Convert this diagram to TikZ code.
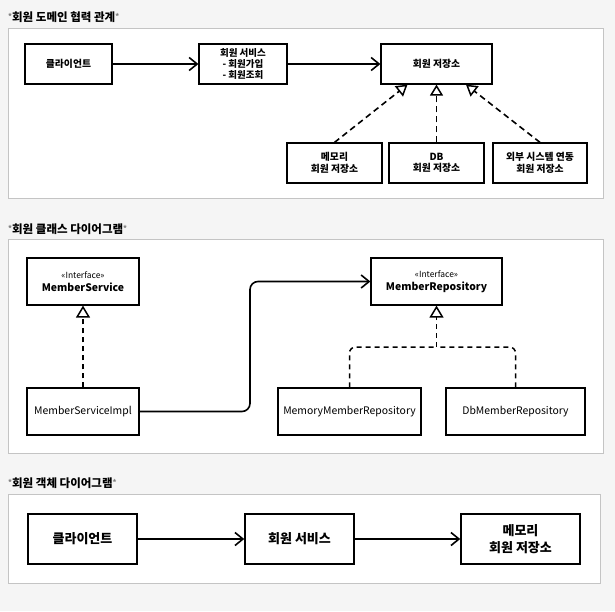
\documentclass[tikz,border=0pt]{standalone}
\usepackage{fontspec}
\setmainfont{Noto Sans CJK KR}
\usetikzlibrary{arrows.meta}
\definecolor{bgc}{HTML}{F5F5F5}
\definecolor{panelc}{HTML}{C4C4C4}
\newcommand{\myast}{\textcolor{gray}{\raisebox{1.5pt}{\fontsize{7.5}{7.5}\selectfont *}}}
\tikzset{
  panel/.style={draw=panelc, fill=white, line width=0.9pt},
  box/.style={draw=black, line width=1.2pt, fill=white, align=center, inner sep=1pt},
  box1/.style={box, font=\fontsize{9.8}{11.5}\selectfont\bfseries},
  box2/.style={box, minimum height=47pt, font=\fontsize{10.4}{13.5}\selectfont},
  box3/.style={box, line width=1.5pt, minimum height=50pt, font=\fontsize{13}{17}\selectfont\bfseries},
  ttl/.style={anchor=west, inner sep=0pt, font=\fontsize{11.5}{13}\selectfont\bfseries},
  assoc/.style={line width=1.6pt, -{Straight Barb[length=8pt,width=13pt,line width=1.6pt]}},
  impl/.style={line width=1.6pt, dash pattern=on 6pt off 4pt, -{Triangle[open,length=11pt,width=13pt,line width=1.5pt]}},
  implb/.style={line width=1.5pt, dash pattern=on 5pt off 4pt, -{Triangle[open,length=12pt,width=14pt,line width=1.5pt]}},
  dsh/.style={line width=1.5pt, dash pattern=on 5pt off 4pt},
}
\begin{document}
\begin{tikzpicture}[x=1pt,y=-1pt]
\useasboundingbox (0,0) rectangle (615,611);
\fill[bgc] (0,0) rectangle (615,611);

% ---------- panel 1
\node[ttl] (t1) at (8,17) {\myast 회원 도메인 협력 관계\myast};
\draw[panel] (8,28) rectangle (603,198);
\node[box1, minimum width=87pt, minimum height=40pt] (c1) at (68.5,64) {클라이언트};
\node[box1, minimum width=88pt, minimum height=40pt, font=\fontsize{9.5}{11}\selectfont\bfseries] (s1) at (243,64) {회원 서비스\\- 회원가입\\- 회원조회};
\node[box1, minimum width=111pt, minimum height=40pt] (r1) at (436.5,64) {회원 저장소};
\node[box1, minimum width=95pt, minimum height=40pt] (m1) at (334.5,163) {메모리\\회원 저장소};
\node[box1, minimum width=95pt, minimum height=40pt] (d1) at (436.5,163) {DB\\회원 저장소};
\node[box1, minimum width=94pt, minimum height=40pt] (e1) at (540,163) {외부 시스템 연동\\회원 저장소};
\draw[assoc] (c1.east) -- (s1.west);
\draw[assoc] (s1.east) -- (r1.west);
\draw[impl] (m1.north) -- ([xshift=-29pt]r1.south);
\draw[impl] (d1.north) -- (r1.south);
\draw[impl] (e1.north) -- ([xshift=29.5pt]r1.south);

% ---------- panel 2
\node[ttl] (t2) at (8,229) {\myast 회원 클래스 다이어그램\myast};
\draw[panel] (8,239) rectangle (603,453);
\node[box2, minimum width=112pt] (ms) at (83,281.5) {{\fontsize{8.5}{10}\selectfont «Interface»}\\\textbf{MemberService}};
\node[box2, minimum width=112pt] (msi) at (83,411.5) {MemberServiceImpl};
\node[box2, minimum width=131pt] (mr) at (436.5,281.5) {{\fontsize{8.5}{10}\selectfont «Interface»}\\\textbf{MemberRepository}};
\node[box2, minimum width=143pt] (mmr) at (349.5,411.5) {MemoryMemberRepository};
\node[box2, minimum width=139pt] (dmr) at (515.5,411.5) {DbMemberRepository};
\coordinate (bend) at (250,350);
\coordinate (jn) at (436.5,347);
\draw[implb] (msi.north) -- (ms.south);
\draw[assoc, rounded corners=8pt] (msi.east) -| (bend) |- (mr.west);
\draw[dsh, rounded corners=6pt] (mmr.north) |- (jn);
\draw[dsh, rounded corners=6pt] (dmr.north) |- (jn);
\draw[implb] (jn) -- (mr.south);

% ---------- panel 3
\node[ttl] (t3) at (8,483) {\myast 회원 객체 다이어그램\myast};
\draw[panel] (8,494) rectangle (600,583);
\node[box3, minimum width=109pt] (c3) at (82.5,539) {클라이언트};
\node[box3, minimum width=109pt] (s3) at (299.5,539) {회원 서비스};
\node[box3, minimum width=119pt] (m3) at (520.5,539) {메모리\\회원 저장소};
\draw[assoc] (c3.east) -- (s3.west);
\draw[assoc] (s3.east) -- (m3.west);
\end{tikzpicture}
\end{document}
